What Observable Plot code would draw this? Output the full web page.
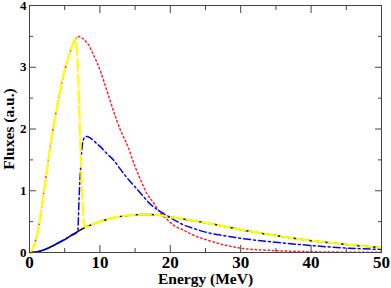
<!DOCTYPE html>
<html>
<head>
<meta charset="utf-8">
<script src="https://cdn.jsdelivr.net/npm/d3@7"></script>
<script src="https://cdn.jsdelivr.net/npm/@observablehq/plot@0.6"></script>
<style>
  html, body { margin: 0; padding: 0; background: #fff; }
  #chart svg { display: block; }
</style>
</head>
<body>
<div id="chart"></div>
<script>
// Red dotted curve
const redE = [0, 0.5, 1, 1.5, 2, 2.5, 3, 3.5, 4, 4.5, 5, 5.5, 6, 6.5, 6.9, 7.5, 8.4, 9.1, 10.1, 11, 12, 13, 14, 14.8, 15.8, 16.7, 17.7, 18.6, 19.6, 20.5, 21.9, 23.3, 25, 27.6, 30, 35, 40, 45, 50];
const redF = [0, 0.07, 0.25, 0.55, 0.95, 1.35, 1.75, 2.1, 2.4, 2.7, 2.95, 3.15, 3.32, 3.45, 3.5, 3.47, 3.36, 3.2, 2.93, 2.62, 2.27, 1.96, 1.71, 1.45, 1.17, 0.95, 0.79, 0.64, 0.53, 0.44, 0.36, 0.28, 0.21, 0.125, 0.07, 0.03, 0.012, 0.005, 0.002];

// Black solid curve
const blackE = [0, 1, 2, 3, 4, 5, 6, 7, 8, 9, 10, 11, 12, 13, 14, 15, 16, 17, 18, 19, 20, 22, 24, 26, 28, 30, 32, 34, 36, 38, 40, 42, 44, 46, 48, 50];
const blackF = [0, 0.01, 0.04, 0.09, 0.15, 0.21, 0.28, 0.35, 0.41, 0.46, 0.5, 0.535, 0.565, 0.585, 0.6, 0.61, 0.615, 0.615, 0.61, 0.595, 0.575, 0.54, 0.5, 0.46, 0.415, 0.37, 0.33, 0.29, 0.255, 0.222, 0.192, 0.165, 0.14, 0.118, 0.097, 0.078];

// Blue dash-dot curve
const blueE = [0, 1, 2, 3, 4, 5, 6, 6.85, 7.05, 7.3, 7.55, 7.85, 8.2, 8.8, 9.6, 10.1, 11, 12, 12.9, 14, 15, 16, 17.2, 18.6, 20, 21, 21.9, 23.3, 25, 27.5, 30, 32.5, 35, 40, 45, 50];
const blueF = [0, 0.01, 0.04, 0.09, 0.15, 0.21, 0.28, 0.34, 0.9, 1.44, 1.78, 1.87, 1.88, 1.84, 1.76, 1.71, 1.6, 1.49, 1.35, 1.19, 1.06, 0.93, 0.78, 0.66, 0.565, 0.5, 0.445, 0.39, 0.33, 0.275, 0.23, 0.195, 0.165, 0.113, 0.072, 0.05];

// Yellow dashed curve
const yellowE = [0, 0.5, 1, 1.5, 2, 2.5, 3, 3.5, 4, 4.5, 5, 5.5, 6, 6.5, 6.8, 7.05, 7.3, 7.5, 7.7, 7.95, 8.3, 9, 10, 11, 12, 13, 14, 15, 16, 17, 18, 19, 20, 22, 24, 26, 28, 30, 32, 34, 36, 38, 40, 42, 44, 46, 48, 50];
const yellowF = [0, 0.07, 0.25, 0.55, 0.95, 1.35, 1.75, 2.1, 2.4, 2.7, 2.95, 3.15, 3.32, 3.46, 3.15, 2.4, 1.5, 0.9, 0.52, 0.41, 0.42, 0.46, 0.5, 0.535, 0.565, 0.585, 0.6, 0.61, 0.615, 0.615, 0.61, 0.595, 0.575, 0.54, 0.5, 0.46, 0.415, 0.37, 0.33, 0.29, 0.255, 0.222, 0.192, 0.165, 0.14, 0.118, 0.097, 0.078];

const xMajor = [0, 10, 20, 30, 40, 50];
const xMinor = [5, 15, 25, 35, 45];
const yMajor = [0, 1, 2, 3, 4];
const yMinor = [0.5, 1.5, 2.5, 3.5];

const xTitle = "Energy (MeV)";
const yTitle = "Fluxes (a.u.)";

const zip = (E, F) => E.map((e, i) => ({e, f: F[i]}));
const red = zip(redE, redF);
const black = zip(blackE, blackF);
const blue = zip(blueE, blueF);
const yellow = zip(yellowE, yellowF);

const font = "'Liberation Serif', 'Times New Roman', serif";
const axisColor = "#444";
const blank = () => "";
const intFmt = d3.format("d");

const chart = Plot.plot({
  width: 391,
  height: 288,
  marginLeft: 29,
  marginRight: 10,
  marginTop: 5,
  marginBottom: 36,
  style: {fontFamily: font, background: "#fff"},
  x: {domain: [0, 50], axis: null},
  y: {domain: [0, 4], axis: null},
  marks: [
    Plot.line(red, {x: "e", y: "f", stroke: "#ff2020", strokeWidth: 1.5, strokeDasharray: "1.5,2.8", curve: "monotone-x"}),
    Plot.line(black, {x: "e", y: "f", stroke: "#000", strokeWidth: 1.5, curve: "monotone-x"}),
    Plot.line(blue, {x: "e", y: "f", stroke: "#0000ff", strokeWidth: 1.5, strokeDasharray: "7,3,2,3", curve: "monotone-x"}),
    Plot.line(yellow, {x: "e", y: "f", stroke: "#ffff00", strokeWidth: 2.2, strokeDasharray: "12,4", curve: "monotone-x"}),
    Plot.frame({stroke: axisColor, strokeWidth: 1}),
    // inward ticks, all four sides
    Plot.axisX({anchor: "bottom", ticks: xMajor, tickSize: -7, tickFormat: blank, stroke: axisColor, label: null}),
    Plot.axisX({anchor: "bottom", ticks: xMinor, tickSize: -4, tickFormat: blank, stroke: axisColor, label: null}),
    Plot.axisX({anchor: "top", ticks: xMajor, tickSize: -7, tickFormat: blank, stroke: axisColor, label: null}),
    Plot.axisX({anchor: "top", ticks: xMinor, tickSize: -4, tickFormat: blank, stroke: axisColor, label: null}),
    Plot.axisY({anchor: "left", ticks: yMajor, tickSize: -7, tickFormat: blank, stroke: axisColor, label: null}),
    Plot.axisY({anchor: "left", ticks: yMinor, tickSize: -4, tickFormat: blank, stroke: axisColor, label: null}),
    Plot.axisY({anchor: "right", ticks: yMajor, tickSize: -7, tickFormat: blank, stroke: axisColor, label: null}),
    Plot.axisY({anchor: "right", ticks: yMinor, tickSize: -4, tickFormat: blank, stroke: axisColor, label: null}),
    // tick labels
    Plot.axisX({anchor: "bottom", ticks: xMajor, tickSize: 0, tickPadding: 3, fontSize: 17, fontWeight: "bold", fill: "#000", tickFormat: intFmt, label: null}),
    Plot.axisY({anchor: "left", ticks: yMajor, tickSize: 0, tickPadding: 3, fontSize: 13, fontWeight: "bold", fill: "#000", tickFormat: intFmt, label: null}),
    // axis titles
    Plot.text([xTitle], {frameAnchor: "bottom", dy: 27, fontSize: 15.5, fontWeight: "bold", fill: "#000", lineAnchor: "middle", textAnchor: "middle"}),
    Plot.text([yTitle], {frameAnchor: "left", dx: -20, rotate: -90, fontSize: 15.5, fontWeight: "bold", fill: "#000", textAnchor: "middle", lineAnchor: "middle"})
  ]
});
document.getElementById("chart").appendChild(chart);
</script>
</body>
</html>
